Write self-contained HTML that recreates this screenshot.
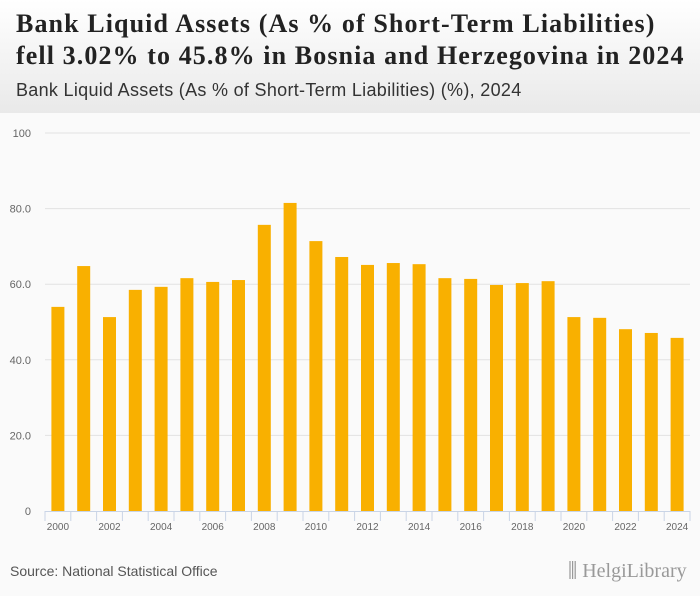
<!DOCTYPE html>
<html><head><meta charset="utf-8"><style>
body{margin:0;width:700px;height:596px;overflow:hidden;background:#fafafa;font-family:"Liberation Sans",sans-serif}
#hdr{position:absolute;left:0;top:0;width:700px;height:113px;background:linear-gradient(#ffffff,#e9e9e9)}
#t{position:absolute;left:16px;top:8px;font-family:"Liberation Serif",serif;font-weight:bold;font-size:26px;line-height:32px;color:#222;letter-spacing:1.1px;white-space:nowrap}
#st{position:absolute;left:16px;top:80px;font-size:18px;color:#333;letter-spacing:0.3px;white-space:nowrap}
#src{position:absolute;left:10px;top:563px;font-size:14px;color:#555}
#logo{position:absolute;left:568px;top:560px;font-family:"Liberation Serif",serif;font-size:20px;color:#999}
</style></head><body>
<div id="hdr">
<div id="t">Bank Liquid Assets (As % of Short-Term Liabilities)<br>fell 3.02% to 45.8% in Bosnia and Herzegovina in 2024</div>
<div id="st">Bank Liquid Assets (As % of Short-Term Liabilities) (%), 2024</div>
</div>
<svg id="chart" width="700" height="596" style="position:absolute;left:0;top:0"></svg>
<div id="src">Source: National Statistical Office</div>
<div id="logo">⫼ HelgiLibrary</div>
<script>
const years=[2000,2001,2002,2003,2004,2005,2006,2007,2008,2009,2010,2011,2012,2013,2014,2015,2016,2017,2018,2019,2020,2021,2022,2023,2024];
const values=[54.0,64.8,51.3,58.5,59.3,61.6,60.6,61.1,75.7,81.5,71.4,67.2,65.1,65.6,65.3,61.6,61.4,59.8,60.3,60.8,51.3,51.1,48.1,47.1,45.8];
const yTicks=[0,20,40,60,80,100];
const yLabels=["0","20.0","40.0","60.0","80.0","100"];
const svg=document.getElementById('chart');const NS='http://www.w3.org/2000/svg';
const x0=45,x1=690,yb=511,yt=133;
const band=(x1-x0)/years.length;
const y=v=>yb-(v/100)*(yb-yt);
const x=i=>x0+band*i;
function mk(t,a){const e=document.createElementNS(NS,t);for(const k in a)e.setAttribute(k,a[k]);svg.appendChild(e);return e;}
yTicks.forEach((v,i)=>{
 if(v>0){const g=mk('line',{x1:x0,x2:x1,y1:y(v),y2:y(v),stroke:'#e2e2e2','stroke-width':1});
 
 }
 const t=mk('text',{x:31,y:y(v)+4,'text-anchor':'end','font-size':11,fill:'#666','font-family':'Liberation Sans, sans-serif'});
 t.textContent=yLabels[i];
 
 
});
values.forEach((v,i)=>{
 const r=mk('rect',{x:x(i)+band/2-6.5,y:y(v),width:13,height:yb-y(v),fill:'#f9b000'});
 
 
});
const ax=mk('line',{x1:x0,x2:x1,y1:yb+0.5,y2:yb+0.5,stroke:'#c9d4e6','stroke-width':1});


for(let i=0;i<=years.length;i++){
 const tk=mk('line',{x1:x(i),x2:x(i),y1:yb,y2:yb+10,stroke:'#c9d4e6','stroke-width':1});
 
 
}
years.forEach((yr,i)=>{
 if(i%2)return;
 const t=mk('text',{x:x(i)+band/2,y:yb+19,'text-anchor':'middle','font-size':10,fill:'#666','font-family':'Liberation Sans, sans-serif'});
 t.textContent=yr;
 
 
});
</script>
</body></html>
